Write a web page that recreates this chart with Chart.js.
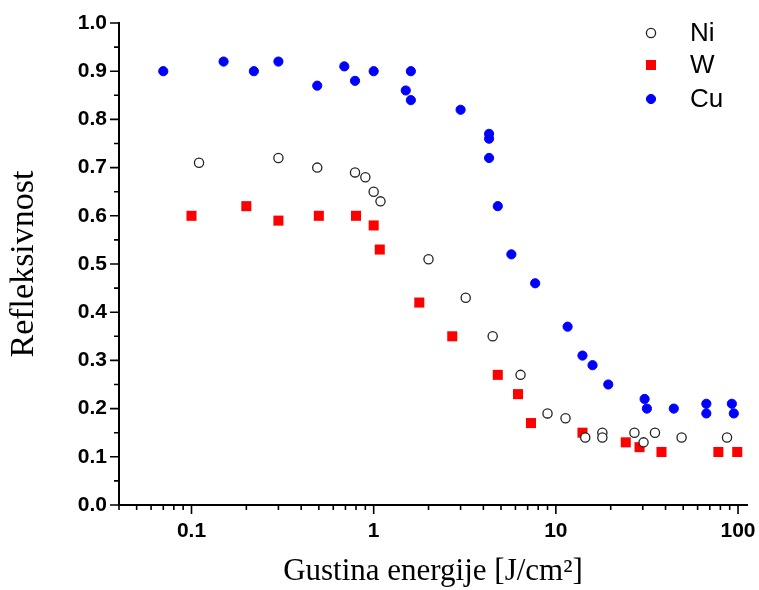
<!DOCTYPE html>
<html>
<head>
<meta charset="utf-8">
<script src="https://cdn.jsdelivr.net/npm/chart.js@4/dist/chart.umd.min.js"></script>
<style>
  html, body { margin: 0; padding: 0; background: #fff; }
  #wrap { width: 759px; height: 590px; }
</style>
</head>
<body>
<div id="wrap"><canvas id="canvas" width="759" height="590"></canvas></div>
<script>
// Ni - open circles
var niX = [0.11, 0.3, 0.49, 0.79, 0.9, 1.0, 1.09, 2.0, 3.2, 4.5, 6.4, 9.0, 11.3, 14.5, 18.0, 18.0, 27, 30.3, 35, 49, 87];
var niY = [0.71, 0.72, 0.70, 0.69, 0.68, 0.65, 0.63, 0.51, 0.43, 0.35, 0.27, 0.19, 0.18, 0.14, 0.15, 0.14, 0.15, 0.13, 0.15, 0.14, 0.14];
// W - red squares
var wX = [0.1, 0.2, 0.3, 0.5, 0.8, 1.0, 1.08, 1.78, 2.7, 4.8, 6.2, 7.3, 14.0, 24.2, 28.8, 38, 78, 99];
var wY = [0.60, 0.62, 0.59, 0.60, 0.60, 0.58, 0.53, 0.42, 0.35, 0.27, 0.23, 0.17, 0.15, 0.13, 0.12, 0.11, 0.11, 0.11];
// Cu - blue circles
var cuX = [0.07, 0.15, 0.22, 0.3, 0.49, 0.69, 0.79, 1.0, 1.6, 1.5, 1.6, 3.0, 4.3, 4.3, 4.3, 4.8, 5.7, 7.7, 11.6, 14.0, 15.9, 19.4, 30.7, 31.6, 44.4, 67, 67, 92.5, 94.8];
var cuY = [0.90, 0.92, 0.90, 0.92, 0.87, 0.91, 0.88, 0.90, 0.90, 0.86, 0.84, 0.82, 0.77, 0.76, 0.72, 0.62, 0.52, 0.46, 0.37, 0.31, 0.29, 0.25, 0.22, 0.20, 0.20, 0.21, 0.19, 0.21, 0.19];

var seriesNames = ['Ni', 'W', 'Cu'];
var xMajor = [0.1, 1, 10, 100];

function pts(xs, ys) {
    return xs.map(function(x, i) { return {x: x, y: ys[i]}; });
}

// minor tick marks for the log axis
var xMinor = [];
[0.01, 0.1, 1, 10].forEach(function(d) {
    for (var k = 2; k <= 9; k++) {
        var v = k * d;
        if (v >= 0.04 && v <= 112) xMinor.push(v);
    }
});

var tickMarks = {
    id: 'tickMarks',
    afterDraw: function(chart) {
        var ctx = chart.ctx, sx = chart.scales.x, sy = chart.scales.y, a = chart.chartArea;
        ctx.save();
        ctx.strokeStyle = '#000';
        ctx.lineWidth = 1.6;
        ctx.beginPath();
        xMajor.forEach(function(v) {
            var p = sx.getPixelForValue(v);
            ctx.moveTo(p, a.bottom); ctx.lineTo(p, a.bottom + 9);
        });
        xMinor.forEach(function(v) {
            var p = sx.getPixelForValue(v);
            ctx.moveTo(p, a.bottom); ctx.lineTo(p, a.bottom + 5);
        });
        for (var i = 0; i <= 20; i++) {
            var p = sy.getPixelForValue(i * 0.05);
            ctx.moveTo(a.left, p); ctx.lineTo(a.left - (i % 2 === 0 ? 9 : 5), p);
        }
        ctx.stroke();

        // legend
        var lx = 651, lys = [33, 65, 99];
        chart.data.datasets.forEach(function(ds, i) {
            var y = lys[i];
            ctx.beginPath();
            if (ds.pointStyle === 'rect') {
                ctx.fillStyle = ds.backgroundColor;
                ctx.fillRect(lx - 5, y - 5, 10, 10);
            } else {
                ctx.arc(lx, y, ds.pointRadius, 0, Math.PI * 2);
                ctx.fillStyle = ds.backgroundColor;
                ctx.fill();
                ctx.lineWidth = ds.borderWidth;
                ctx.strokeStyle = ds.borderColor;
                ctx.stroke();
            }
            ctx.fillStyle = '#000';
            ctx.font = '26px "Liberation Sans", Arial, sans-serif';
            ctx.textBaseline = 'middle';
            ctx.textAlign = 'left';
            ctx.fillText(seriesNames[i], 690, y + 1);
        });
        ctx.restore();
    }
};

var tickFont = {family: '"Liberation Sans", Arial, sans-serif', size: 21, weight: 'bold'};
var titleFont = {family: '"Liberation Serif", "Times New Roman", serif', size: 31};

new Chart(document.getElementById('canvas').getContext('2d'), {
    type: 'scatter',
    data: {
        datasets: [
            {label: 'Ni', data: pts(niX, niY), pointStyle: 'circle', pointRadius: 4.6,
             backgroundColor: '#fff', borderColor: '#222', borderWidth: 1.3},
            {label: 'W', data: pts(wX, wY), pointStyle: 'rect', pointRadius: 7.1,
             backgroundColor: '#ff0000', borderColor: '#ff0000', borderWidth: 0},
            {label: 'Cu', data: pts(cuX, cuY), pointStyle: 'circle', pointRadius: 4.6,
             backgroundColor: '#0000ff', borderColor: '#0000ff', borderWidth: 1}
        ]
    },
    options: {
        responsive: false,
        animation: false,
        layout: {padding: {left: 0, top: 23, right: 12, bottom: 0}},
        plugins: {legend: {display: false}, tooltip: {enabled: false}},
        scales: {
            x: {
                type: 'logarithmic',
                min: 0.04,
                max: 112,
                afterBuildTicks: function(s) {
                    s.ticks = xMajor.map(function(v) { return {value: v}; });
                },
                afterFit: function(s) { s.height = 85; s.paddingLeft = 0; s.paddingRight = 0; },
                ticks: {
                    autoSkip: false, maxRotation: 0, padding: 14, color: '#000', font: tickFont,
                    callback: function(v) { return String(v); }
                },
                grid: {display: false, drawTicks: false},
                border: {display: true, color: '#000', width: 2},
                title: {display: true, text: 'Gustina energije [J/cm²]', color: '#000', font: titleFont,
                        padding: {top: 0, bottom: 0}}
            },
            y: {
                min: 0,
                max: 1,
                afterFit: function(s) { s.width = 119; s.paddingTop = 0; s.paddingBottom = 0; },
                ticks: {
                    stepSize: 0.1, padding: 12, color: '#000', font: tickFont,
                    callback: function(v) { return v.toFixed(1); }
                },
                grid: {display: false, drawTicks: false},
                border: {display: true, color: '#000', width: 2},
                title: {display: true, text: 'Refleksivnost', color: '#000',
                        font: {family: titleFont.family, size: 34}, padding: {top: 4, bottom: 0}}
            }
        }
    },
    plugins: [tickMarks]
});
</script>
</body>
</html>
